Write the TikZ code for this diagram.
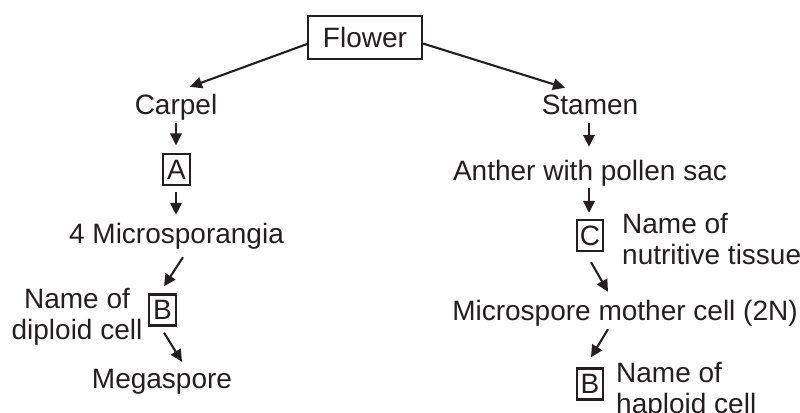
\documentclass[tikz,border=0pt]{standalone}
\usepackage{fontspec}
\setmainfont{Liberation Sans}
\usetikzlibrary{arrows.meta,calc}
\definecolor{ink}{HTML}{231F20}
\begin{document}
\begin{tikzpicture}[x=1bp,y=-1bp,
  every node/.style={text=ink,font=\fontsize{28bp}{31.5bp}\selectfont},
  lbl/.style={inner sep=0pt,anchor=base,text height=20bp,text depth=6bp},
  box/.style={draw=ink,line width=2.3bp,inner sep=0pt,minimum width=26.5bp,minimum height=31bp,anchor=center},
  arr/.style={draw=ink,line width=2.1bp,-{Triangle[length=12bp,width=11.5bp]}}]
\useasboundingbox (0,0) rectangle (800,412);
% nodes
\node[box,minimum width=113.5bp,minimum height=42.5bp] (flower) at (365,37.5) {Flower};
\node[lbl] (carpel) at (176,114) {Carpel};
\node[lbl] (stamen) at (590,114) {Stamen};
\node[box] (A) at (176.5,169.5) {A};
\node[lbl] (micro) at (176.5,243) {4 Microsporangia};
\node[box] (B1) at (162.5,310) {B};
\node[inner sep=0pt,anchor=base,align=center] (diploid) at (77,339.5) {Name of\\diploid cell};
\node[lbl] (mega) at (162,388) {Megaspore};
\node[lbl] (anther) at (590,180) {Anther with pollen sac};
\node[box] (C) at (590,235.5) {C};
\node[inner sep=0pt,anchor=base west,align=left] (nutri) at (622,264.5) {Name of\\nutritive tissue};
\node[lbl] (mmc) at (625,320) {Microspore mother cell (2N)};
\node[box] (B2) at (590,384) {B};
\node[inner sep=0pt,anchor=base west,align=left] (haplo) at (616,413.5) {Name of\\haploid cell};
% connectors
\draw[arr] ($(flower.west)+(0,6.5)$) -- ($(carpel.north)+(14,-7)$);
\draw[arr] ($(flower.east)+(0,6)$) -- ($(stamen.north)+(-25,-6)$);
\draw[arr] ($(carpel.south)+(0,3)$) -- ($(A.north)+(-0.5,-7.5)$);
\draw[arr] ($(A.south)+(-0.5,6)$) -- ($(micro.north)+(-0.5,-8)$);
\draw[arr] ($(micro.south)+(6.5,8)$) -- ($(B1.north)+(1.5,-7)$);
\draw[arr] ($(B1.south)+(1.5,6)$) -- ($(mega.north)+(20,-6)$);
\draw[arr] ($(stamen.south)+(-1,3)$) -- ($(anther.north)+(-1,-13)$);
\draw[arr] ($(anther.south)+(-1,2)$) -- ($(C.north)+(-1,-6)$);
\draw[arr] ($(C.south)+(1,10)$) -- ($(mmc.north)+(-17,-8)$);
\draw[arr] ($(mmc.south)+(-17,3)$) -- ($(B2.north)+(1,-10)$);
\end{tikzpicture}
\end{document}
